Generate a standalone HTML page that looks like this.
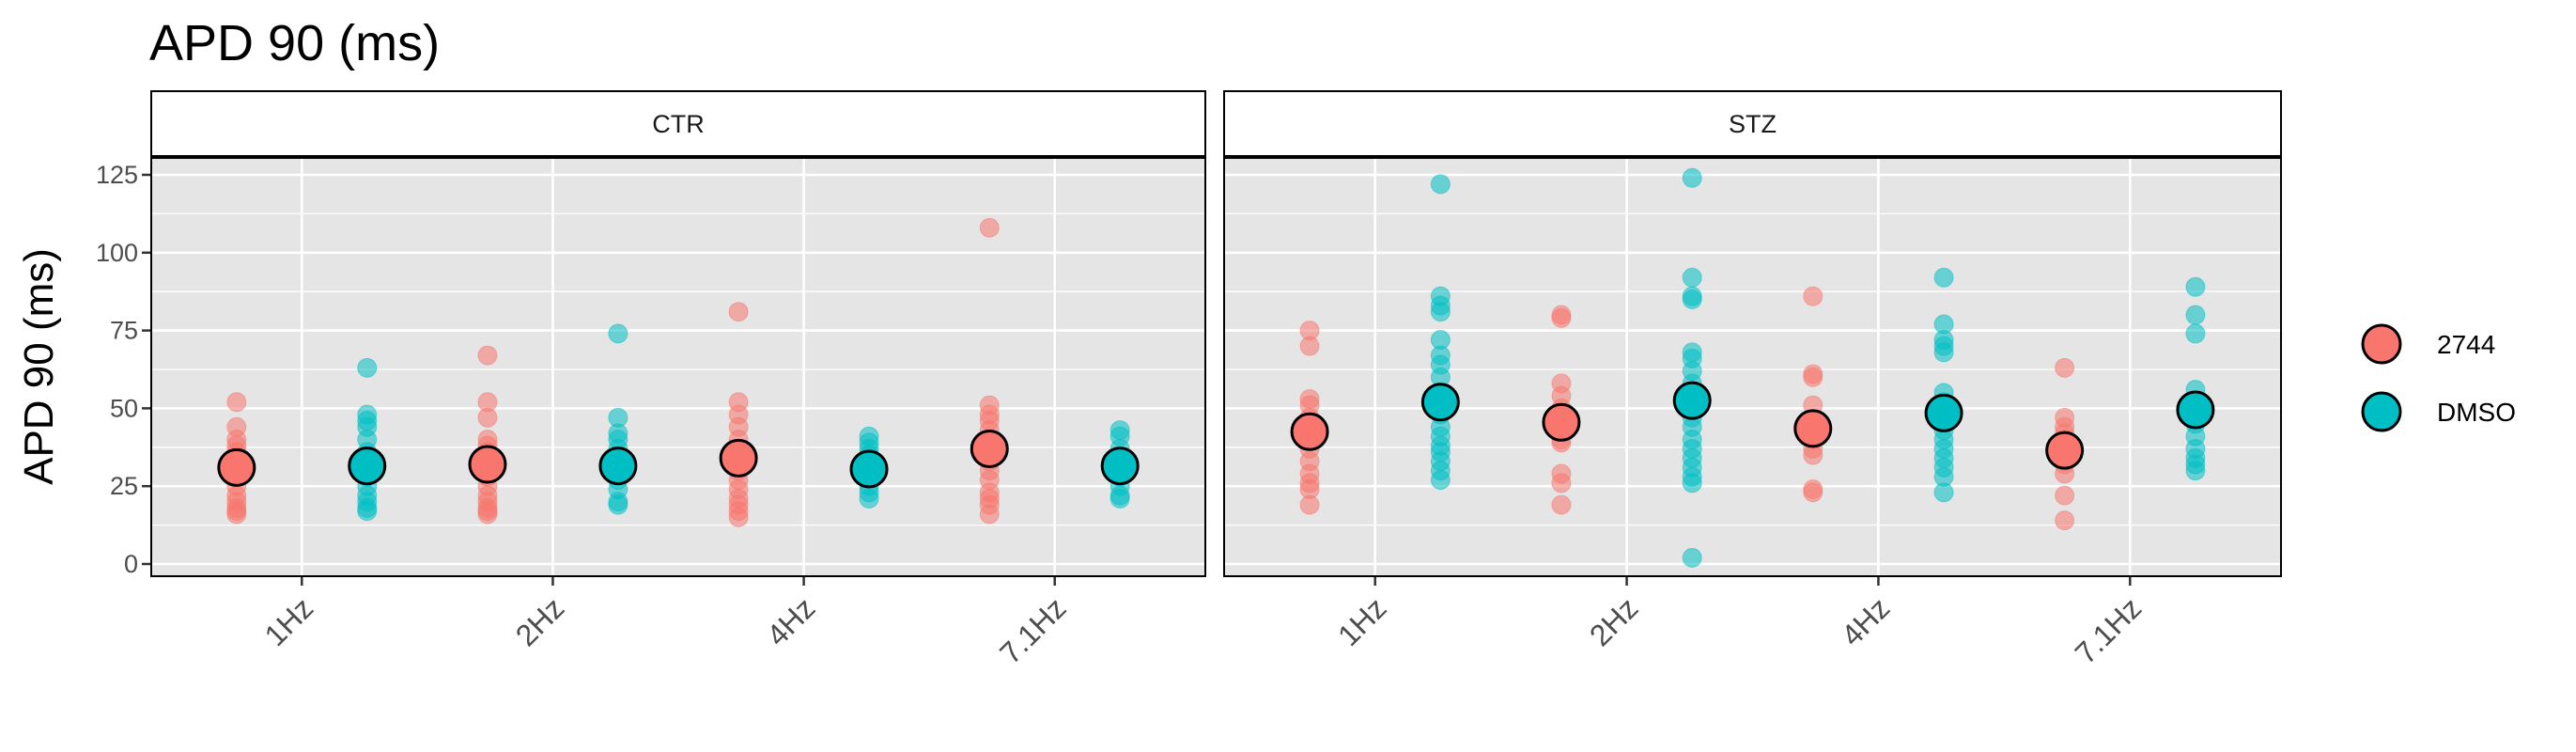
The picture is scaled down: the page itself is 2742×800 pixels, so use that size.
<!DOCTYPE html>
<html><head><meta charset="utf-8"><style>
html,body{margin:0;padding:0;background:#fff;}
svg{display:block;font-family:"Liberation Sans",Arial,sans-serif;}
</style></head><body>
<svg id="chart" width="2742" height="800" viewBox="0 0 2742 800" xmlns="http://www.w3.org/2000/svg">
<text x="159" y="64" font-size="54" fill="#000">APD 90 (ms)</text>
<text transform="translate(56,390) rotate(-90)" text-anchor="middle" font-size="44" fill="#000">APD 90 (ms)</text>
<g id="panels"></g>
<g>
<g><circle cx="2535" cy="366" r="20" fill="#F8766D" stroke="#000" stroke-width="3"/><text x="2594" y="376" font-size="28">2744</text></g>
<g><circle cx="2535" cy="438" r="20" fill="#00BFC4" stroke="#000" stroke-width="3"/><text x="2594" y="448" font-size="28">DMSO</text></g>
</g>
</svg>
<script>
const categories = ["1Hz","2Hz","4Hz","7.1Hz"];
const panelsNames = ["CTR","STZ"];
const yTicks = [0,25,50,75,100,125];
const ctrRed = [
 [52,44,40,38,36,33,30,28,25,22,20,18,17,16],
 [67,52,47,40,38,36,33,30,28,25,22,20,18,17,16],
 [81,52,48,44,40,37,34,30,27,24,21,19,17,15],
 [108,51,48,46,43,40,37,33,30,27,23,21,19,16]];
const ctrTeal = [
 [63,48,46,44,40,36,33,30,28,25,22,20,18,17],
 [74,47,42,40,37,33,30,27,24,20,19],
 [41,39,37,35,31,28,25,23,21],
 [43,41,37,34,31,28,25,22,21]];
const stzRed = [
 [75,70,53,51,47,43,40,37,33,29,26,24,19],
 [80,79,58,54,50,47,43,40,39,29,26,19],
 [86,61,60,51,46,43,40,37,35,24,23],
 [63,47,44,42,40,37,35,32,29,22,14]];
const stzTeal = [
 [122,86,83,81,72,67,64,60,52,48,44,41,38,36,33,30,27],
 [124,92,86,85,68,66,62,58,55,50,47,44,40,37,34,31,28,26,2],
 [92,77,72,70,68,55,52,49,46,43,40,37,34,31,28,23],
 [89,80,74,56,52,48,45,41,37,34,32,30]];
const ctrRedMean = [31,32,34,37], ctrRedErr = [2,2.5,3,4];
const ctrTealMean = [31.5,31.5,30.5,31.5], ctrTealErr = [2.5,2.5,2,2];
const stzRedMean = [42.5,45.5,43.5,36.5], stzRedErr = [3,3,3,3];
const stzTealMean = [52,52.5,48.5,49.5], stzTealErr = [4,5,4,5];

const NS="http://www.w3.org/2000/svg";
const RED="#F8766D", TEAL="#00BFC4";
const panelsG=document.getElementById('panels');
const yTop=167, yBot=613;
function yScale(v){return 600 - v*3.312;}
const panelX=[[161,1283],[1303,2428]];
function mk(tag,attrs,parent){const e=document.createElementNS(NS,tag);for(const k in attrs)e.setAttribute(k,attrs[k]);parent.appendChild(e);return e;}
const dataSets=[[ctrRed,ctrTeal,ctrRedMean,ctrTealMean,ctrRedErr,ctrTealErr],[stzRed,stzTeal,stzRedMean,stzTealMean,stzRedErr,stzTealErr]];
panelsNames.forEach((pn,pi)=>{
 const [x0,x1]=panelX[pi];
 const step=(x1-x0)/(categories.length-1+1.2);
 const xScale=i=>x0+step*(0.6+i);
 const g=mk('g',{},panelsG);
 
 
 mk('rect',{x:x0,y:yTop,width:x1-x0,height:yBot-yTop,fill:'#e5e5e5'},g);
 for(let k=0;k<yTicks.length;k++){const v=yTicks[k]+12.5;const yy=yScale(v);if(yy>yTop)mk('line',{x1:x0,x2:x1,y1:yy,y2:yy,stroke:'#fff','stroke-width':1.3},g);}
 yTicks.forEach(t=>{const yy=yScale(t);const l=mk('line',{x1:x0,x2:x1,y1:yy,y2:yy,stroke:'#fff','stroke-width':2.6},g);
   });
 categories.forEach((c,i)=>{const xx=xScale(i);mk('line',{x1:xx,x2:xx,y1:yTop,y2:yBot,stroke:'#fff','stroke-width':2.6},g);
   mk('line',{x1:xx,x2:xx,y1:yBot,y2:yBot+10,stroke:'#333','stroke-width':2.5},g);
   const t=mk('text',{transform:`translate(${xx+14},${yBot+36}) rotate(-45)`,'text-anchor':'end','font-size':32,fill:'#4d4d4d'},g);
   t.textContent=c;
   });
 if(pi===0){yTicks.forEach(t=>{const yy=yScale(t);mk('line',{x1:x0-10,x2:x0,y1:yy,y2:yy,stroke:'#333','stroke-width':2.5},g);
   const tx=mk('text',{x:x0-14,y:yy+9,'text-anchor':'end','font-size':27,fill:'#4d4d4d'},g);tx.textContent=t;
   });}
 const [rp,tp,rm,tm,re,te]=dataSets[pi];
 const off=step*0.26;
 [[rp,RED,-off],[tp,TEAL,off]].forEach(([arr,col,o])=>{
  arr.forEach((vals,i)=>{vals.forEach(v=>{const c=mk('circle',{cx:xScale(i)+o,cy:yScale(v),r:10,fill:col,'fill-opacity':0.55,stroke:col,'stroke-opacity':0.5},g);
    });});
 });
 [[rm,re,RED,-off],[tm,te,TEAL,off]].forEach(([m,e,col,o])=>{
  m.forEach((v,i)=>{const xx=xScale(i)+o;
   const eb=mk('path',{d:`M${xx-9},${yScale(v+e[i])}H${xx+9}M${xx},${yScale(v+e[i])}V${yScale(v-e[i])}M${xx-9},${yScale(v-e[i])}H${xx+9}`,stroke:'#000','stroke-width':3,fill:'none'},g);
   
   const c=mk('circle',{cx:xx,cy:yScale(v),r:19,fill:col,stroke:'#000','stroke-width':3},g);
   });
 });
 mk('rect',{x:x0,y:yTop,width:x1-x0,height:yBot-yTop,fill:'none',stroke:'#000','stroke-width':2},g);
 const s=mk('rect',{x:x0,y:97,width:x1-x0,height:70,fill:'#fff',stroke:'#000','stroke-width':2},g);
 
 mk('line',{x1:x0,x2:x1,y1:167,y2:167,stroke:'#000','stroke-width':4},g);
 const st=mk('text',{x:(x0+x1)/2,y:141,'text-anchor':'middle','font-size':27,fill:'#1a1a1a'},g);st.textContent=pn;
 
});
</script>
</body></html>
